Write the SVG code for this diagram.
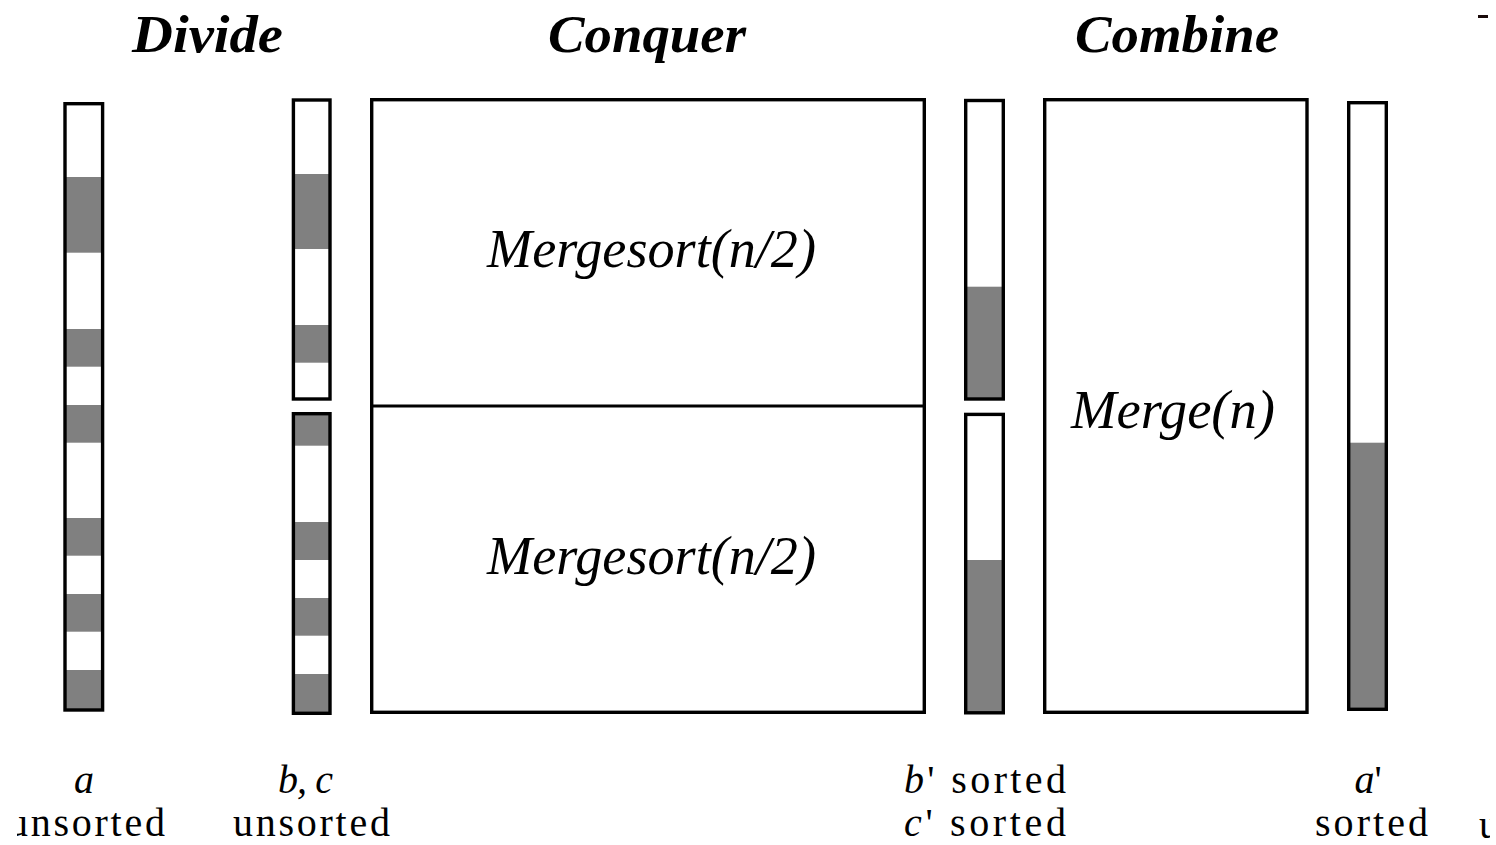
<svg xmlns="http://www.w3.org/2000/svg" width="1496" height="845" viewBox="0 0 1496 845">
<style>
.title{font-family:"Liberation Serif","Times New Roman",serif;font-weight:bold;font-style:italic;font-size:52px;fill:#000}
.func{font-family:"Liberation Serif","Times New Roman",serif;font-style:italic;font-size:54px;fill:#000}
.lbl{font-family:"Liberation Serif","Times New Roman",serif;font-size:40px;fill:#000}
.it{font-style:italic}
.bar{fill:#fff;stroke:none}
.frame{fill:none;stroke:#000;stroke-width:3.4}
.box{fill:#fff;stroke:#000;stroke-width:3.4}
.g{fill:#808080}
</style>
<defs>
<clipPath id="clipL"><rect x="17" y="790" width="200" height="55"/></clipPath>
<clipPath id="clipR"><rect x="1470" y="800" width="20" height="45"/></clipPath>
</defs>
<rect x="0" y="0" width="1496" height="845" fill="#fff"/>

<g id="titles">
<text class="title" x="132" y="52" textLength="151" lengthAdjust="spacingAndGlyphs">Divide</text>
<text class="title" x="548" y="52" textLength="198" lengthAdjust="spacingAndGlyphs">Conquer</text>
<text class="title" x="1075" y="52" textLength="204" lengthAdjust="spacingAndGlyphs">Combine</text>
<rect x="1478" y="15" width="10" height="3" fill="#1a0a0a"/>
</g>

<g id="bar-a">
<rect class="bar" x="65" y="103.7" width="37.6" height="606.3"/>
<rect class="g" x="65" y="177" width="37.6" height="75.7"/>
<rect class="g" x="65" y="329" width="37.6" height="37.7"/>
<rect class="g" x="65" y="405" width="37.6" height="37.7"/>
<rect class="g" x="65" y="518" width="37.6" height="37.7"/>
<rect class="g" x="65" y="594" width="37.6" height="37.7"/>
<rect class="g" x="65" y="670" width="37.6" height="40"/>
<rect class="frame" x="65" y="103.7" width="37.6" height="606.3"/>
</g>

<g id="bar-b">
<rect class="bar" x="293.4" y="100" width="36.6" height="299"/>
<rect class="g" x="293.4" y="174" width="36.6" height="75"/>
<rect class="g" x="293.4" y="325" width="36.6" height="37.7"/>
<rect class="frame" x="293.4" y="100" width="36.6" height="299"/>
</g>

<g id="bar-c">
<rect class="bar" x="293.4" y="413.7" width="36.6" height="299.6"/>
<rect class="g" x="293.4" y="413.7" width="36.6" height="32"/>
<rect class="g" x="293.4" y="522" width="36.6" height="38"/>
<rect class="g" x="293.4" y="598" width="36.6" height="37.7"/>
<rect class="g" x="293.4" y="674" width="36.6" height="39.3"/>
<rect class="frame" x="293.4" y="413.7" width="36.6" height="299.6"/>
</g>

<g id="conquer">
<rect class="box" x="371.7" y="99.7" width="552.6" height="612.6"/>
<line x1="371.7" y1="406" x2="924.3" y2="406" stroke="#000" stroke-width="3"/>
<text class="func" x="487" y="267" textLength="329" lengthAdjust="spacingAndGlyphs">Mergesort(n/2)</text>
<text class="func" x="487" y="574" textLength="329" lengthAdjust="spacingAndGlyphs">Mergesort(n/2)</text>
</g>

<g id="bar-b-sorted">
<rect class="bar" x="965.7" y="100.5" width="37.6" height="298.5"/>
<rect class="g" x="965.7" y="286.7" width="37.6" height="112.3"/>
<rect class="frame" x="965.7" y="100.5" width="37.6" height="298.5"/>
</g>

<g id="bar-c-sorted">
<rect class="bar" x="965.7" y="414.4" width="37.6" height="298.4"/>
<rect class="g" x="965.7" y="560" width="37.6" height="152.8"/>
<rect class="frame" x="965.7" y="414.4" width="37.6" height="298.4"/>
</g>

<g id="merge">
<rect class="box" x="1044.7" y="99.7" width="262.3" height="612.6"/>
<text class="func" x="1071" y="428" textLength="204" lengthAdjust="spacingAndGlyphs">Merge(n)</text>
</g>

<g id="bar-a-sorted">
<rect class="bar" x="1348.7" y="102.7" width="37.6" height="606.6"/>
<rect class="g" x="1348.7" y="442.7" width="37.6" height="266.6"/>
<rect class="frame" x="1348.7" y="102.7" width="37.6" height="606.6"/>
</g>

<g id="labels">
<text class="lbl it" x="84" y="793" text-anchor="middle">a</text>
<text class="lbl" x="8" y="836" textLength="157" lengthAdjust="spacing" clip-path="url(#clipL)">unsorted</text>
<text class="lbl it" x="278" y="793" textLength="55" lengthAdjust="spacing">b, c</text>
<text class="lbl" x="233" y="836" textLength="157" lengthAdjust="spacing">unsorted</text>
<text class="lbl" x="904" y="793" textLength="162" lengthAdjust="spacing"><tspan class="it">b</tspan>' sorted</text>
<text class="lbl" x="904" y="836" textLength="162" lengthAdjust="spacing"><tspan class="it">c</tspan>' sorted</text>
<text class="lbl" x="1368" y="793" text-anchor="middle"><tspan class="it">a</tspan>'</text>
<text class="lbl" x="1315" y="836" textLength="113" lengthAdjust="spacing">sorted</text>
<text class="lbl" x="1479" y="838" clip-path="url(#clipR)">u</text>
</g>
</svg>
